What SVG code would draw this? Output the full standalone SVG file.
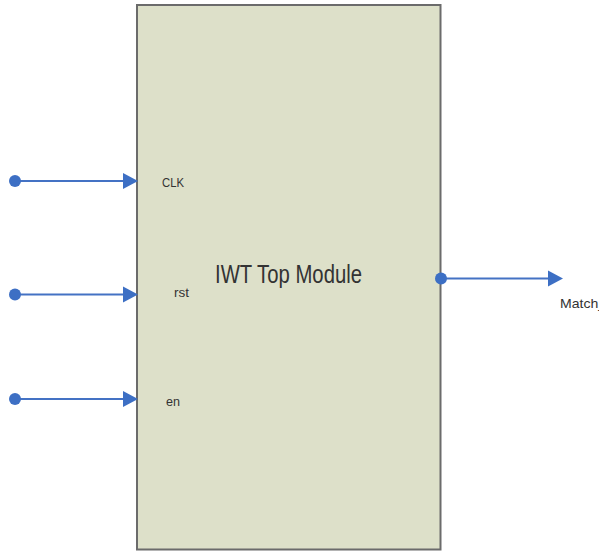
<svg xmlns="http://www.w3.org/2000/svg" width="599" height="551" viewBox="0 0 599 551">
<defs>
<style>
.lbl{font-family:"Liberation Sans",Arial,sans-serif;fill:#333;}
.wire{stroke:#4472c4;stroke-width:2;fill:none;}
.dot{fill:#3d6fc4;}
.head{fill:#3d6fc4;}
</style>
</defs>
<rect width="599" height="551" fill="#fff"/>
<g id="module">
<rect x="137" y="5" width="303.5" height="544.5" fill="#dde0c9" stroke="#6b6b6b" stroke-width="2"/>
<text class="lbl" x="215" y="283" font-size="25" textLength="147" lengthAdjust="spacingAndGlyphs">IWT Top Module</text>
</g>
<g id="connectors">
<g id="clk">
<line class="wire" x1="15" y1="181" x2="125" y2="181"/>
<circle class="dot" cx="15" cy="181" r="6"/>
<polygon class="head" points="123,173 138,181 123,189"/>
</g>
<g id="rst">
<line class="wire" x1="15" y1="294.5" x2="125" y2="294.5"/>
<circle class="dot" cx="15" cy="294.5" r="6"/>
<polygon class="head" points="123,286.5 138,294.5 123,302.5"/>
</g>
<g id="en">
<line class="wire" x1="15" y1="399" x2="125" y2="399"/>
<circle class="dot" cx="15" cy="399" r="6"/>
<polygon class="head" points="123,391 138,399 123,407"/>
</g>
<g id="match">
<line class="wire" x1="441" y1="278.5" x2="550" y2="278.5"/>
<circle class="dot" cx="441" cy="278.5" r="6"/>
<polygon class="head" points="548,270.5 563,278.5 548,286.5"/>
</g>
</g>
<g id="labels">
<text class="lbl" x="162" y="187" font-size="13" textLength="22" lengthAdjust="spacingAndGlyphs">CLK</text>
<text class="lbl" x="174" y="297" font-size="13" textLength="15" lengthAdjust="spacingAndGlyphs">rst</text>
<text class="lbl" x="166" y="406" font-size="13" textLength="14" lengthAdjust="spacingAndGlyphs">en</text>
<text class="lbl" x="560" y="308" font-size="13" textLength="50" lengthAdjust="spacingAndGlyphs">Match_f</text>
</g>
</svg>
